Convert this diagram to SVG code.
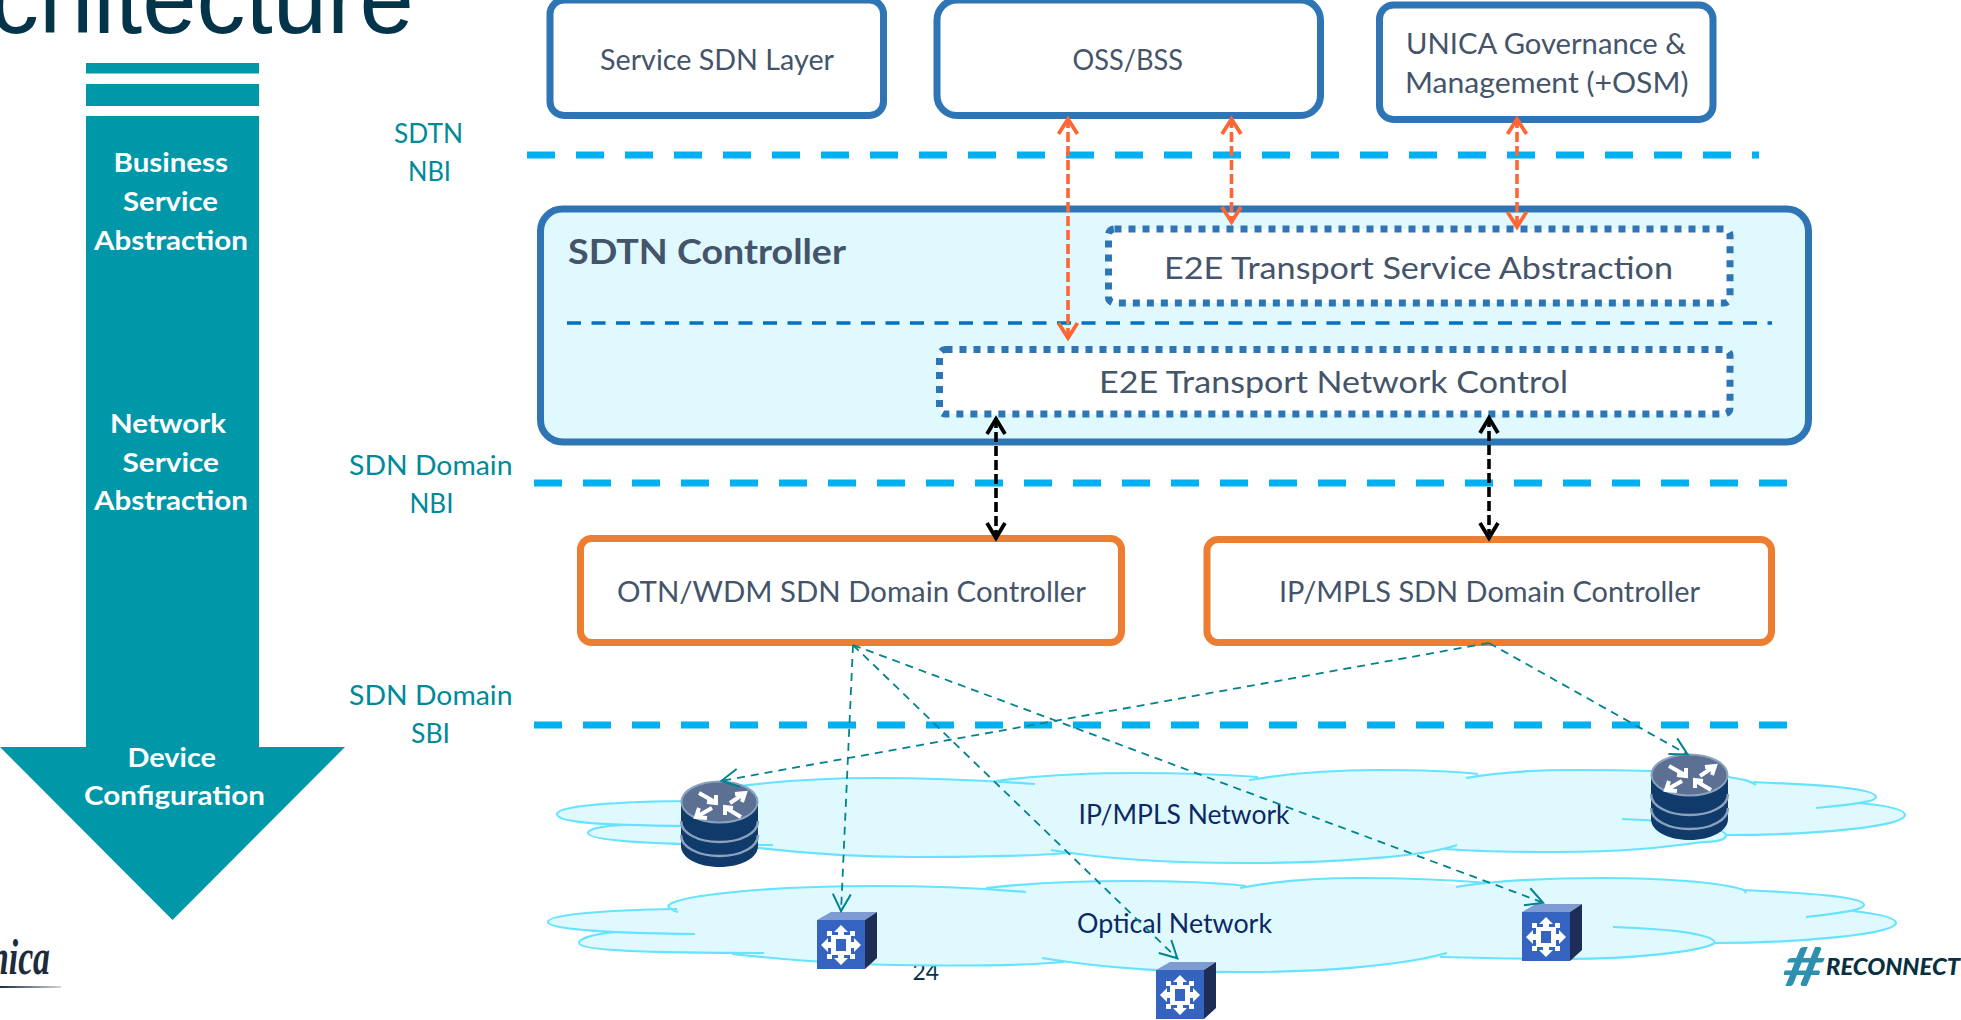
<svg xmlns="http://www.w3.org/2000/svg" width="1961" height="1020" viewBox="0 0 1961 1020">
<style>
text{font-family:Lato,"Liberation Sans",sans-serif}
.lbl{font-size:27px;fill:#00899A}
.wh{font-size:27px;font-weight:700;fill:#fff}
.dk{fill:#44546A}
.bx{font-size:28px}
.net{font-size:26px;fill:#0B2A63}
.bbox{fill:#fff;stroke:#2E75B6;stroke-width:7}
.obox{fill:#fff;stroke:#ED7D31;stroke-width:7}
.dot{fill:#fff;stroke:#2E75B6;stroke-width:7;stroke-dasharray:7 7}
.cy{fill:none;stroke:#00B0F0;stroke-width:7;stroke-dasharray:28 21}
.cl{fill:none;stroke:#66E3FF;stroke-width:2.2}
.or{fill:none;stroke:#FF6633;stroke-width:3.6;stroke-dasharray:10 4;marker-start:url(#ao);marker-end:url(#ao)}
.bk{fill:none;stroke:#000;stroke-width:3.6;stroke-dasharray:10 4;marker-start:url(#ab);marker-end:url(#ab)}
.te{fill:none;stroke:#00838F;stroke-width:1.8;stroke-dasharray:8 6;marker-end:url(#at)}
</style>
<defs>
<marker id="ao" markerUnits="userSpaceOnUse" markerWidth="26" markerHeight="26" refX="20" refY="12" orient="auto-start-reverse" overflow="visible"><path d="M4,2.5 L19,12 L4,21.5" fill="none" stroke="#FF6633" stroke-width="3.8"/></marker>
<marker id="ab" markerUnits="userSpaceOnUse" markerWidth="26" markerHeight="26" refX="20" refY="12" orient="auto-start-reverse" overflow="visible"><path d="M4,3 L19,12 L4,21" fill="none" stroke="#000" stroke-width="3.8"/></marker>
<marker id="at" markerUnits="userSpaceOnUse" markerWidth="26" markerHeight="26" refX="20" refY="12" orient="auto" overflow="visible"><path d="M2,3 L19,12 L2,21" fill="none" stroke="#00838F" stroke-width="2"/></marker>
<linearGradient id="lg" x1="0" x2="1" y1="0" y2="0"><stop offset="0" stop-color="#1D2B3D"/><stop offset="1" stop-color="#1D2B3D" stop-opacity=".2"/></linearGradient>
<g id="router">
<path d="M681,802 V846 C681,858 698,867 719.500,867 C741,867 758,858 758,846 V802 Z" fill="#0F3A69"/>
<path d="M681,821 C681,833 698,842 719.500,842 C741,842 758,833 758,821 M681,835 C681,847 698,856 719.500,856 C741,856 758,847 758,835" fill="none" stroke="#8AA2BD" stroke-width="2.500"/>
<ellipse cx="719.500" cy="802" rx="38" ry="20.500" fill="#5B7092" stroke="#8AA2BD" stroke-width="2"/>
<path d="M730,803 L745,793 M735,794 L745,793 L742,802 M712,808 L696,817 M707,818 L696,817 L699,808 M699,793 L715,802 M716,795 L716,803 L707,802 M741,817 L726,808 M725,815 L725,807 L733,808" fill="none" stroke="#fff" stroke-width="4"/>
</g>
<g id="switch">
<polygon points="-24,-25 -10,-33 36,-33 24,-25" fill="#7F9BD3"/>
<polygon points="24,-25 36,-33 36,13 24,24" fill="#1E2D55"/>
<rect x="-24" y="-25" width="48" height="49" fill="#3564C0"/>
<polygon points="0,-20 7,-13 3,-13 3,-10 9,-10 9,-14 14,-14 14,-9 10,-9 10,-3 13,-3 13,-7 20,0 13,7 13,3 10,3 10,9 14,9 14,14 9,14 9,10 3,10 3,13 7,13 0,20 -7,13 -3,13 -3,10 -9,10 -9,14 -14,14 -14,9 -10,9 -10,3 -13,3 -13,7 -20,0 -13,-7 -13,-3 -10,-3 -10,-9 -14,-9 -14,-14 -9,-14 -9,-10 -3,-10 -3,-13 -7,-13" fill="#fff"/>
<rect x="-5" y="-6" width="10" height="12" fill="#3564C0"/>
</g>
</defs>

<rect width="1961" height="1020" fill="#fff"/>

<g id="title"><text x="-10" y="33" font-size="100" textLength="424" lengthAdjust="spacingAndGlyphs" style="font-family:'Liberation Sans',sans-serif" fill="#03344A">chitecture</text></g>

<g id="abstraction-arrow">
<rect x="86" y="63" width="173" height="10.500" fill="#0097A9"/>
<rect x="86" y="84" width="173" height="22" fill="#0097A9"/>
<polygon points="86,116 259,116 259,747 345,747 172.500,920 0,747 86,747" fill="#0097A9"/>
<g class="wh">
<text x="113.500" y="172" textLength="114.500" lengthAdjust="spacingAndGlyphs">Business</text>
<text x="123" y="211" textLength="95" lengthAdjust="spacingAndGlyphs">Service</text>
<text x="94" y="250" textLength="154" lengthAdjust="spacingAndGlyphs">Abstraction</text>
<text x="110" y="433" textLength="116" lengthAdjust="spacingAndGlyphs">Network</text>
<text x="122.500" y="472" textLength="96.500" lengthAdjust="spacingAndGlyphs">Service</text>
<text x="94" y="510" textLength="154" lengthAdjust="spacingAndGlyphs">Abstraction</text>
<text x="127.500" y="767" textLength="88.500" lengthAdjust="spacingAndGlyphs">Device</text>
<text x="84" y="805" textLength="181" lengthAdjust="spacingAndGlyphs">Configuration</text>
</g>
</g>

<g id="interface-labels" class="lbl">
<text x="394" y="143" textLength="69" lengthAdjust="spacingAndGlyphs">SDTN</text>
<text x="408" y="181" textLength="43" lengthAdjust="spacingAndGlyphs">NBI</text>
<text x="349" y="475" textLength="163.500" lengthAdjust="spacingAndGlyphs">SDN Domain</text>
<text x="409.500" y="513" textLength="44" lengthAdjust="spacingAndGlyphs">NBI</text>
<text x="349" y="705" textLength="163.500" lengthAdjust="spacingAndGlyphs">SDN Domain</text>
<text x="411" y="743" textLength="39" lengthAdjust="spacingAndGlyphs">SBI</text>
</g>

<g id="footer">
<text x="912.500" y="980" font-size="23" textLength="26.500" lengthAdjust="spacingAndGlyphs" fill="#03344A">24</text>
<text x="-10" y="974" font-size="50" font-weight="700" font-style="italic" textLength="60" lengthAdjust="spacingAndGlyphs" style="font-family:'Liberation Serif',serif" fill="#1D2B3D">nica</text>
<rect x="0" y="986" width="61" height="2" fill="url(#lg)"/>
<text x="1783" y="986" font-size="54" font-weight="700" font-style="italic" textLength="41" lengthAdjust="spacingAndGlyphs" fill="#2E8FAE">#</text>
<text x="1826" y="975" font-size="22" font-weight="900" font-style="italic" textLength="134" lengthAdjust="spacingAndGlyphs" fill="#08303F">RECONNECT</text>
</g>

<g id="ip-mpls-network">
<path fill="#DFF9FF" d="M557,814 C557,806 610,802 682,801 C700,790 780,778 874,778 C930,778 970,779 996,781 C1040,775 1080,773 1137,773 C1190,773 1230,775 1249,779 C1290,773 1330,770 1378,770 C1420,770 1450,772 1466,776 C1500,772 1540,770 1576,770 C1620,770 1680,770 1728,777 L1756,782 C1820,785 1876,788 1876,797 C1876,800 1870,802 1860,803 C1890,806 1905,810 1905,815 C1905,826 1820,835 1726,835 C1724,840 1715,842 1703,842 C1660,848 1620,852 1558,852 C1510,852 1470,851 1447,849 C1400,858 1320,863 1244,863 C1170,863 1110,860 1068,853 C1020,857 960,857 911,857 C860,857 800,853 760,848 C700,845 588,842 588,833 C588,829 600,826 624,825 C590,824 557,822 557,814 Z"/>
<path class="cl" d="M682,801 C610,802 557,806 557,814 C557,822 590,825 690,826 M624,825 C600,826 588,829 588,833 C588,840 640,845 773,845 M682,801 C690,790 780,778 874,778 C930,778 980,780 1035,784 M996,781 C1040,775 1080,773 1137,773 C1190,773 1230,775 1258,777 M1249,780 C1290,773 1330,770 1378,770 C1420,770 1450,771 1478,774 M1466,778 C1500,772 1540,770 1576,770 C1640,770 1700,772 1728,777 C1740,779 1750,780 1756,785 M1753,782 C1820,785 1876,788 1876,797 C1876,802 1850,805 1816,808 M1860,803 C1890,806 1905,810 1905,815 C1905,826 1820,835 1726,835 M1622,819 C1660,820 1724,826 1726,835 C1726,840 1715,842 1703,842 C1660,848 1620,852 1558,852 C1510,852 1470,851 1445,849 M1457,845 C1420,858 1320,863 1244,863 C1170,863 1110,860 1051,850 M1068,853 C1020,857 960,857 911,857 C860,857 800,853 750,847"/>
<text class="net" x="1078.500" y="824" textLength="211" lengthAdjust="spacingAndGlyphs">IP/MPLS Network</text>
</g>

<g id="optical-network">
<path fill="#DFF9FF" d="M548,922 C548,915 600,910 669,909 C669,895 770,886 874,886 C930,886 965,887 986,888 C1030,883 1080,881 1130,881 C1180,881 1220,883 1240,887 C1280,880 1320,878 1359,878 C1400,878 1440,880 1456,885 C1500,880 1550,878 1604,878 C1660,878 1720,882 1744,890 C1810,893 1864,897 1864,905 C1864,908 1860,910 1853,911 C1880,914 1896,918 1896,923 C1896,934 1800,943 1715,943 C1700,952 1630,959 1567,959 C1520,959 1480,958 1445,957 C1400,966 1320,972 1244,972 C1170,972 1110,969 1064,962 C1020,966 960,966 897,965 C830,964 770,958 732,954 C650,953 579,950 579,943 C579,938 595,934 616,932 C580,931 548,928 548,922 Z"/>
<path class="cl" d="M677,909 C600,910 548,915 548,922 C548,928 590,933 695,934 M616,932 C595,934 579,938 579,943 C579,950 640,953 764,953 M678,912 C665,908 669,905 669,905 C680,895 770,886 874,886 C930,886 980,888 1026,892 M986,888 C1030,883 1080,881 1130,881 C1180,881 1220,883 1246,886 M1240,888 C1280,880 1320,878 1359,878 C1400,878 1450,880 1489,883 M1456,887 C1500,880 1550,878 1604,878 C1660,878 1720,882 1744,890 L1746,893 M1744,890 C1810,893 1864,897 1864,905 C1864,910 1840,913 1806,917 M1853,911 C1880,914 1896,918 1896,923 C1896,934 1800,943 1715,943 M1613,927 C1670,929 1715,934 1715,943 C1700,952 1630,959 1567,959 C1520,959 1480,958 1440,957 M1447,953 C1400,966 1320,972 1244,972 C1170,972 1110,969 1042,958 M1064,962 C1020,966 960,966 897,965 C830,964 770,958 732,954"/>
<text class="net" x="1077" y="933" textLength="195" lengthAdjust="spacingAndGlyphs">Optical Network</text>
</g>

<g id="service-sdn-layer"><rect class="bbox" x="550" y="0" width="333.500" height="115.500" rx="14"/><text class="dk bx" x="600" y="70" textLength="234" lengthAdjust="spacingAndGlyphs">Service SDN Layer</text></g>
<g id="oss-bss"><rect class="bbox" x="937" y="0" width="383.500" height="115.500" rx="20"/><text class="dk bx" x="1072.500" y="70" textLength="110.500" lengthAdjust="spacingAndGlyphs">OSS/BSS</text></g>
<g id="unica"><rect class="bbox" x="1379.500" y="5" width="333.500" height="114.500" rx="14"/><text class="dk bx" x="1406" y="54" textLength="280" lengthAdjust="spacingAndGlyphs">UNICA Governance &amp;</text><text class="dk bx" x="1405" y="92.500" textLength="283.500" lengthAdjust="spacingAndGlyphs">Management (+OSM)</text></g>

<g id="sdtn-controller">
<rect x="540.500" y="209" width="1268" height="233" rx="22" fill="#DFF9FF" stroke="#2E75B6" stroke-width="7"/>
<text class="dk" x="568" y="264" font-size="34" font-weight="700" textLength="278" lengthAdjust="spacingAndGlyphs">SDTN Controller</text>
<path d="M567,323 H1772" fill="none" stroke="#0070C0" stroke-width="3.500" stroke-dasharray="14 10.500"/>
</g>
<g id="e2e-service"><rect class="dot" x="1108.500" y="229" width="621.500" height="74" rx="6"/><text class="dk" x="1164" y="279" font-size="31" textLength="509" lengthAdjust="spacingAndGlyphs">E2E Transport Service Abstraction</text></g>
<g id="e2e-network"><rect class="dot" x="939.500" y="349.500" width="790.500" height="64.500" rx="6"/><text class="dk" x="1099" y="393" font-size="31" textLength="469" lengthAdjust="spacingAndGlyphs">E2E Transport Network Control</text></g>

<g id="otn-controller"><rect class="obox" x="580.500" y="538.500" width="541" height="104" rx="11"/><text class="dk" x="617" y="602" font-size="29" textLength="469" lengthAdjust="spacingAndGlyphs">OTN/WDM SDN Domain Controller</text></g>
<g id="ip-controller"><rect class="obox" x="1207" y="539.500" width="564.500" height="103" rx="11"/><text class="dk" x="1279" y="602" font-size="29" textLength="421" lengthAdjust="spacingAndGlyphs">IP/MPLS SDN Domain Controller</text></g>

<g id="router-1"><use href="#router"/></g>
<g id="router-2"><use href="#router" transform="translate(970,-27)"/></g>
<g id="switch-1"><use href="#switch" transform="translate(841,945)"/></g>
<g id="switch-2"><use href="#switch" transform="translate(1180,995)"/></g>
<g id="switch-3"><use href="#switch" transform="translate(1546,937)"/></g>

<g id="connectors">
<path class="cy" d="M527,155 H1759"/>
<path class="cy" d="M534,483 H1791"/>
<path class="cy" d="M534,725 H1791"/>
<path class="or" d="M1068,118 V339"/>
<path class="or" d="M1231.500,118 V223"/>
<path class="or" d="M1517,118 V228"/>
<path class="bk" d="M996,418 V539"/>
<path class="bk" d="M1489,417 V539"/>
<path class="te" d="M853,645 L841,912"/>
<path class="te" d="M853,645 L1178,959"/>
<path class="te" d="M853,645 L1544,903"/>
<path class="te" d="M1489,643 L720.500,781"/>
<path class="te" d="M1489,643 L1688.500,755"/>
</g>
</svg>
